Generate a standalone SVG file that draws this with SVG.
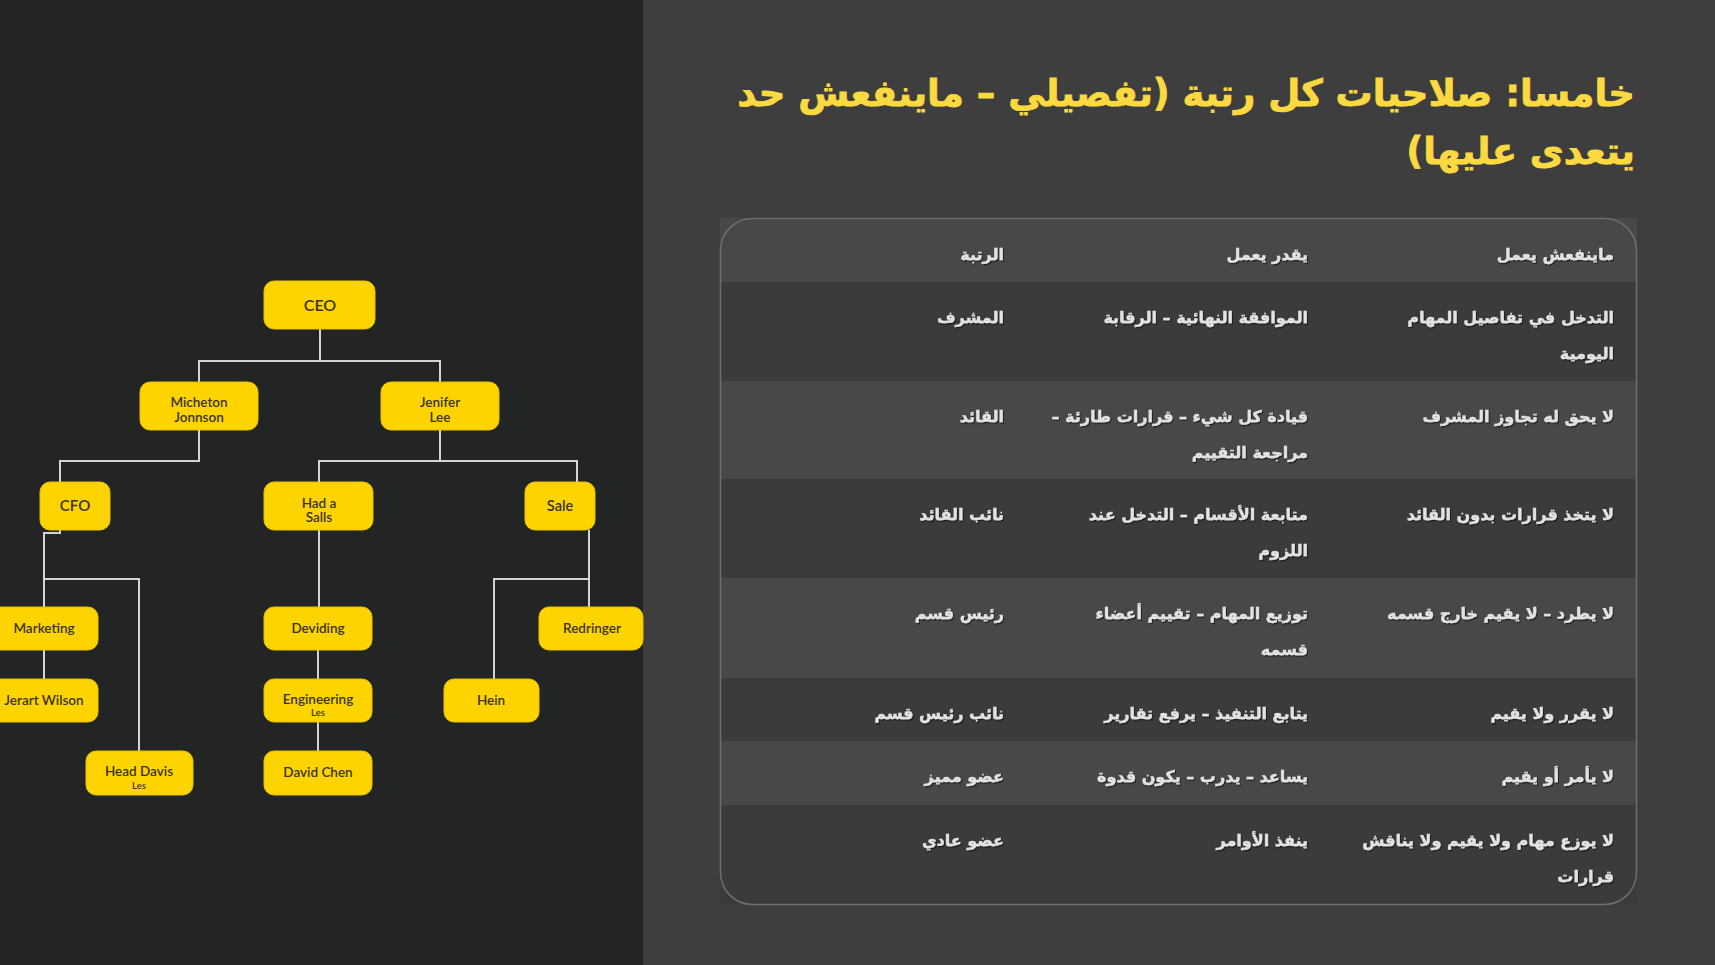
<svg xmlns="http://www.w3.org/2000/svg" width="1715" height="965" viewBox="0 0 1715 965">
<defs>
<style>
.node rect{fill:#fdd300;stroke:#e9c200;stroke-width:1}
.node text{font-family:Lato,"Liberation Sans",sans-serif;font-weight:600;fill:#3a3320;text-anchor:middle;font-size:13.5px}
.node text.sm{font-size:9.5px}
.conn path{fill:none;stroke:#d4d4d4;stroke-width:2}
.title{font-family:"DejaVu Sans",sans-serif;font-weight:bold;font-size:37px;fill:#fbd940;stroke:#fbd940;stroke-width:0.8}
.cell{font-family:"DejaVu Sans",sans-serif;font-weight:bold;font-size:16px;fill:#e2e2e2;stroke:#e2e2e2;stroke-width:0.35;filter:url(#sh)}
.rowA{fill:#484848}
.rowB{fill:#3b3b3b}
</style>
<filter id="sh" x="-5%" y="-30%" width="110%" height="160%">
<feDropShadow dx="1" dy="1.2" stdDeviation="0.4" flood-color="#111" flood-opacity="0.8"/>
</filter>
</defs>
<rect x="0" y="0" width="1715" height="965" fill="#3e3e3e"/>
<rect x="0" y="0" width="643" height="965" fill="#232424"/>

<g id="connectors" class="conn">
<path d="M320 329V361M199 382V361H440V382"/>
<path d="M199 430V461H60V482"/>
<path d="M440 430V461M319 482V461H577V482"/>
<path d="M60 530V533H44V607"/>
<path d="M44 579H139V751"/>
<path d="M44 650V679"/>
<path d="M319 530V607M318 650V679M318 722V751"/>
<path d="M589 530V607"/>
<path d="M589 579H494V679"/>
</g>

<g id="n-ceo" class="node"><rect x="264" y="281" width="111" height="48" rx="10"/><text x="320" y="311" style="font-size:16px">CEO</text></g>
<g id="n-micheton" class="node"><rect x="140" y="382" width="118" height="48" rx="10"/><text x="199" y="407">Micheton</text><text x="199" y="422">Jonnson</text></g>
<g id="n-jenifer" class="node"><rect x="381" y="382" width="118" height="48" rx="10"/><text x="440" y="407">Jenifer</text><text x="440" y="422">Lee</text></g>
<g id="n-cfo" class="node"><rect x="40" y="482" width="70" height="48" rx="10"/><text x="75" y="511" style="font-size:15px">CFO</text></g>
<g id="n-hadasalls" class="node"><rect x="264" y="482" width="109" height="48" rx="10"/><text x="319" y="508">Had a</text><text x="319" y="522">Salls</text></g>
<g id="n-sale" class="node"><rect x="525" y="482" width="70" height="48" rx="10"/><text x="560" y="511" style="font-size:14.5px">Sale</text></g>
<g id="n-marketing" class="node"><rect x="-10" y="607" width="108" height="43" rx="10"/><text x="44" y="633">Marketing</text></g>
<g id="n-jerart" class="node"><rect x="-10" y="679" width="108" height="43" rx="10"/><text x="44" y="705">Jerart Wilson</text></g>
<g id="n-headdavis" class="node"><rect x="86" y="751" width="107" height="44" rx="10"/><text x="139" y="776">Head Davis</text><text class="sm" x="139" y="789">Les</text></g>
<g id="n-deviding" class="node"><rect x="264" y="607" width="108" height="43" rx="10"/><text x="318" y="633">Deviding</text></g>
<g id="n-engineering" class="node"><rect x="264" y="679" width="108" height="43" rx="10"/><text x="318" y="704">Engineering</text><text class="sm" x="318" y="716">Les</text></g>
<g id="n-davidchen" class="node"><rect x="264" y="751" width="108" height="44" rx="10"/><text x="318" y="777">David Chen</text></g>
<g id="n-redringer" class="node"><rect x="539" y="607" width="104" height="43" rx="10"/><text x="592" y="633">Redringer</text></g>
<g id="n-hein" class="node"><rect x="444" y="679" width="95" height="43" rx="10"/><text x="491" y="705">Hein</text></g>

<g id="title">
<text class="title" x="1635" y="106" direction="rtl" text-anchor="start">خامسا: صلاحيات كل رتبة (تفصيلي – ماينفعش حد</text>
<text class="title" x="1635" y="164" direction="rtl" text-anchor="start">يتعدى عليها)</text>
</g>

<g id="table">
<rect class="rowA" x="720" y="218" width="917" height="64"/>
<rect class="rowB" x="720" y="282" width="917" height="99"/>
<rect class="rowA" x="720" y="381" width="917" height="98"/>
<rect class="rowB" x="720" y="479" width="917" height="99"/>
<rect class="rowA" x="720" y="578" width="917" height="100"/>
<rect class="rowB" x="720" y="678" width="917" height="63"/>
<rect class="rowA" x="720" y="741" width="917" height="64"/>
<rect class="rowB" x="720" y="805" width="917" height="100"/>
<rect x="720.5" y="218.5" width="916" height="686" rx="32" fill="none" stroke="#6e6e6e" stroke-width="1.5"/>
<g direction="rtl" text-anchor="start">
<text class="cell" x="1614" y="260">ماينفعش يعمل</text>
<text class="cell" x="1308" y="260">يقدر يعمل</text>
<text class="cell" x="1004" y="260">الرتبة</text>

<text class="cell" x="1614" y="323">التدخل في تفاصيل المهام</text>
<text class="cell" x="1614" y="359">اليومية</text>
<text class="cell" x="1308" y="323">الموافقة النهائية – الرقابة</text>
<text class="cell" x="1004" y="323">المشرف</text>

<text class="cell" x="1614" y="422">لا يحق له تجاوز المشرف</text>
<text class="cell" x="1308" y="422">قيادة كل شيء – قرارات طارئة –</text>
<text class="cell" x="1308" y="458">مراجعة التقييم</text>
<text class="cell" x="1004" y="422">القائد</text>

<text class="cell" x="1614" y="520">لا يتخذ قرارات بدون القائد</text>
<text class="cell" x="1308" y="520">متابعة الأقسام – التدخل عند</text>
<text class="cell" x="1308" y="556">اللزوم</text>
<text class="cell" x="1004" y="520">نائب القائد</text>

<text class="cell" x="1614" y="619">لا يطرد – لا يقيم خارج قسمه</text>
<text class="cell" x="1308" y="619">توزيع المهام – تقييم أعضاء</text>
<text class="cell" x="1308" y="655">قسمه</text>
<text class="cell" x="1004" y="619">رئيس قسم</text>

<text class="cell" x="1614" y="719">لا يقرر ولا يقيم</text>
<text class="cell" x="1308" y="719">يتابع التنفيذ – يرفع تقارير</text>
<text class="cell" x="1004" y="719">نائب رئيس قسم</text>

<text class="cell" x="1614" y="782">لا يأمر أو يقيم</text>
<text class="cell" x="1308" y="782">يساعد – يدرب – يكون قدوة</text>
<text class="cell" x="1004" y="782">عضو مميز</text>

<text class="cell" x="1614" y="846">لا يوزع مهام ولا يقيم ولا يناقش</text>
<text class="cell" x="1614" y="882">قرارات</text>
<text class="cell" x="1308" y="846">ينفذ الأوامر</text>
<text class="cell" x="1004" y="846">عضو عادي</text>
</g>
</g>
</svg>
